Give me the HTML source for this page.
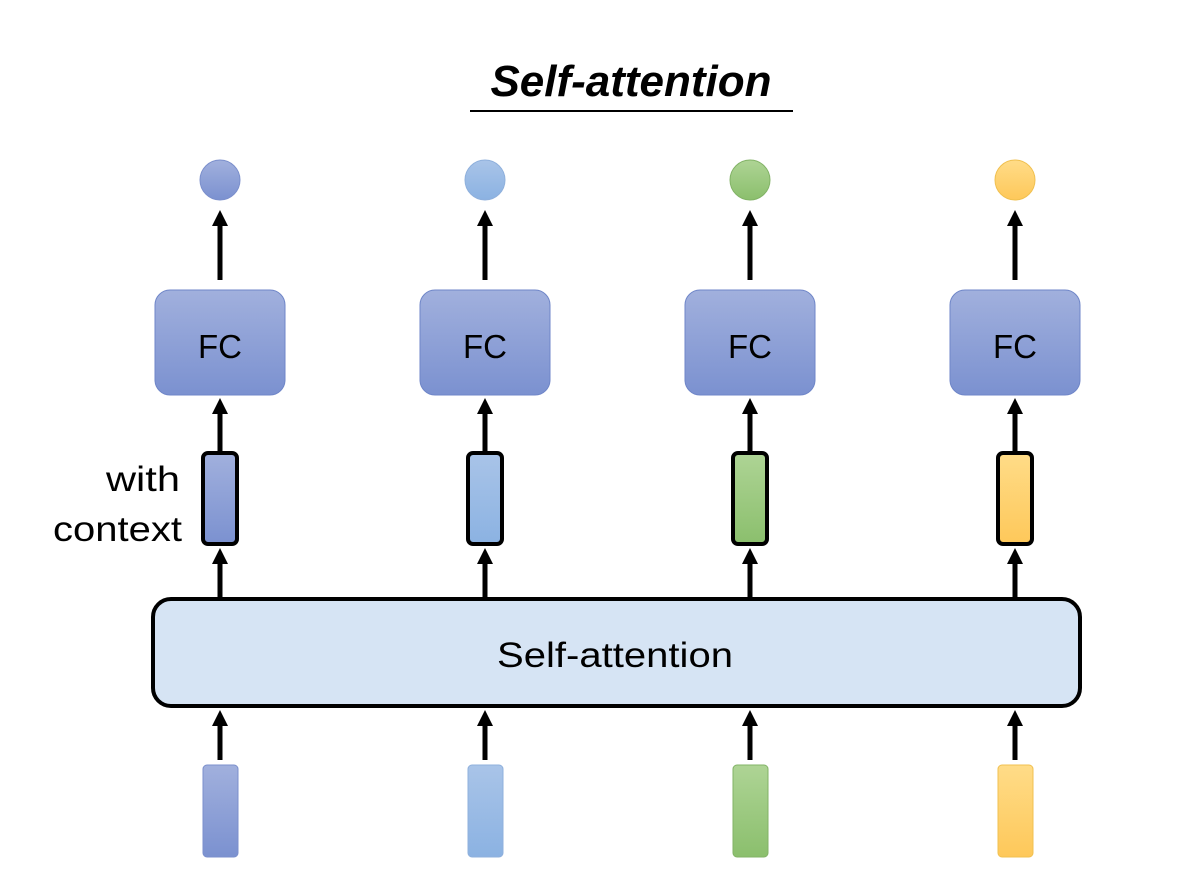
<!DOCTYPE html>
<html><head><style>
body{margin:0;background:#fff;}
</style></head><body>
<svg width="1200" height="880" xmlns="http://www.w3.org/2000/svg" style="display:block">
<defs>
<linearGradient id="b1" x1="0" y1="0" x2="0" y2="1"><stop offset="0" stop-color="#a1b0dd"/><stop offset="1" stop-color="#7b91d0"/></linearGradient>
<linearGradient id="b2" x1="0" y1="0" x2="0" y2="1"><stop offset="0" stop-color="#a9c4e8"/><stop offset="1" stop-color="#8bb2e2"/></linearGradient>
<linearGradient id="g" x1="0" y1="0" x2="0" y2="1"><stop offset="0" stop-color="#aed495"/><stop offset="1" stop-color="#8bbf6d"/></linearGradient>
<linearGradient id="y" x1="0" y1="0" x2="0" y2="1"><stop offset="0" stop-color="#ffdc88"/><stop offset="1" stop-color="#fec85a"/></linearGradient>
<g id="arrows">
<line x1="0" y1="280" x2="0" y2="222" stroke="#000" stroke-width="5"/><path d="M-8,226 L0,210 L8,226z"/>
<line x1="0" y1="452" x2="0" y2="410" stroke="#000" stroke-width="5"/><path d="M-8,414 L0,398 L8,414z"/>
<line x1="0" y1="599" x2="0" y2="560" stroke="#000" stroke-width="5"/><path d="M-8,564 L0,548 L8,564z"/>
<line x1="0" y1="760" x2="0" y2="722" stroke="#000" stroke-width="5"/><path d="M-8,726 L0,710 L8,726z"/>
<rect x="-65" y="290" width="130" height="105" rx="15" fill="url(#b1)" stroke="#6f86c8" stroke-width="1"/>
<text x="0" y="358" font-family="Liberation Sans, sans-serif" font-size="33" text-anchor="middle">FC</text>
</g>
</defs>
<text x="631" y="96" font-family="Liberation Sans, sans-serif" font-size="44" font-weight="bold" font-style="italic" text-anchor="middle">Self-attention</text>
<line x1="470" y1="111" x2="793" y2="111" stroke="#000" stroke-width="2"/>
<g font-family="Liberation Sans, sans-serif">
<text x="106" y="491" font-size="35" textLength="74" lengthAdjust="spacingAndGlyphs">with</text>
<text x="53" y="541" font-size="35" textLength="129" lengthAdjust="spacingAndGlyphs">context</text>
</g>
<rect x="153" y="599" width="927" height="107" rx="18" fill="#d6e4f4" stroke="#000" stroke-width="4"/>
<text x="497" y="667" font-family="Liberation Sans, sans-serif" font-size="35" textLength="236" lengthAdjust="spacingAndGlyphs">Self-attention</text>

<use href="#arrows" x="220"/>
<use href="#arrows" x="485"/>
<use href="#arrows" x="750"/>
<use href="#arrows" x="1015"/>

<circle cx="220" cy="180" r="20" fill="url(#b1)" stroke="#7b8fcc"/>
<circle cx="485" cy="180" r="20" fill="url(#b2)" stroke="#8fb0dc"/>
<circle cx="750" cy="180" r="20" fill="url(#g)" stroke="#82b366"/>
<circle cx="1015" cy="180" r="20" fill="url(#y)" stroke="#f0c050"/>

<rect x="203" y="453" width="34" height="91" rx="5" fill="url(#b1)" stroke="#000" stroke-width="4"/>
<rect x="468" y="453" width="34" height="91" rx="5" fill="url(#b2)" stroke="#000" stroke-width="4"/>
<rect x="733" y="453" width="34" height="91" rx="5" fill="url(#g)" stroke="#000" stroke-width="4"/>
<rect x="998" y="453" width="34" height="91" rx="5" fill="url(#y)" stroke="#000" stroke-width="4"/>

<rect x="203" y="765" width="35" height="92" rx="4" fill="url(#b1)" stroke="#7b8fcc"/>
<rect x="468" y="765" width="35" height="92" rx="4" fill="url(#b2)" stroke="#8fb0dc"/>
<rect x="733" y="765" width="35" height="92" rx="4" fill="url(#g)" stroke="#82b366"/>
<rect x="998" y="765" width="35" height="92" rx="4" fill="url(#y)" stroke="#f0c050"/>
</svg>
</body></html>
